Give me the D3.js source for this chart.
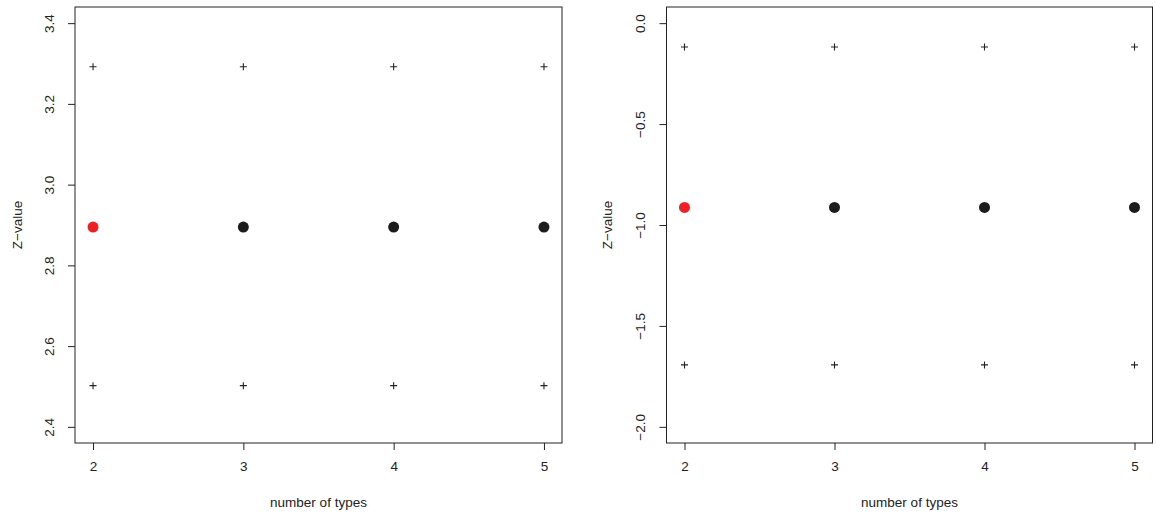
<!DOCTYPE html>
<html>
<head>
<meta charset="utf-8">
<script src="https://cdn.jsdelivr.net/npm/d3@7"></script>
<style>
  html, body { margin: 0; padding: 0; background: #fff; }
  svg { display: block; }
  text { font-family: "Liberation Sans", Arial, Helvetica, sans-serif; fill: #222; }
</style>
</head>
<body>
<svg id="chart" width="1156" height="516"></svg>
<script>
// ---- data ----
const types = [2, 3, 4, 5];
const xTicks = [2, 3, 4, 5];

// left panel
const leftZ = [2.895, 2.895, 2.895, 2.895];
const leftUpper = [3.292, 3.292, 3.292, 3.292];
const leftLower = [2.502, 2.502, 2.502, 2.502];
const leftYTicks = [2.4, 2.6, 2.8, 3.0, 3.2, 3.4];
const leftYLim = [2.4, 3.4];

// right panel
const rightZ = [-0.913, -0.913, -0.913, -0.913];
const rightUpper = [-0.118, -0.118, -0.118, -0.118];
const rightLower = [-1.693, -1.693, -1.693, -1.693];
const rightYTicks = [-2.0, -1.5, -1.0, -0.5, 0.0];
const rightYLim = [-2.0, 0.0];

// highlighted (first) point colour vs others
const pointColors = ["#ee2024", "#1c1c1c", "#1c1c1c", "#1c1c1c"];

const xLabel = "number of types";
const yLabel = "Z\u2212value";

const FS = 13.5;
const svg = d3.select("#chart");

function rFmt(v) {
  const s = v.toFixed(1);
  return s.replace("-", "\u2212");
}

function panel(opts) {
  const { left, right, top, bottom, z, upper, lower, yTicks, yLim, yLabX, tickLabX } = opts;
  const g = svg.append("g");
  const xr = [2, 5];
  const xpad = (xr[1] - xr[0]) * 0.04;
  const ypad = (yLim[1] - yLim[0]) * 0.04;
  const x = d3.scaleLinear().domain([xr[0] - xpad, xr[1] + xpad]).range([left, right]);
  const y = d3.scaleLinear().domain([yLim[0] - ypad, yLim[1] + ypad]).range([bottom, top]);

  // box
  g.append("rect")
    .attr("x", left).attr("y", top)
    .attr("width", right - left).attr("height", bottom - top)
    .attr("fill", "none").attr("stroke", "#222").attr("stroke-width", 1);

  // x axis
  const xa = g.append("g").attr("transform", `translate(0,${bottom})`)
    .call(d3.axisBottom(x).tickValues(xTicks).tickSize(7).tickPadding(11).tickFormat(d3.format("d")));
  xa.select(".domain").remove();
  xa.selectAll(".tick line").attr("stroke", "#222");
  xa.selectAll(".tick text").attr("font-size", FS).style("fill", "#222")
    .attr("font-family", "Liberation Sans, Arial, sans-serif");

  // y axis
  const ya = g.append("g").attr("transform", `translate(${left},0)`)
    .call(d3.axisLeft(y).tickValues(yTicks).tickSize(7).tickFormat(rFmt));
  ya.select(".domain").remove();
  ya.selectAll(".tick line").attr("stroke", "#222");
  ya.selectAll(".tick text")
    .attr("x", null).attr("dy", null)
    .attr("font-size", FS).style("fill", "#222")
    .attr("font-family", "Liberation Sans, Arial, sans-serif")
    .attr("text-anchor", "middle")
    .attr("transform", `translate(${tickLabX - left},0) rotate(-90)`)
    .attr("dominant-baseline", "central");

  // axis titles
  g.append("text")
    .attr("x", (left + right) / 2).attr("y", 506.5)
    .attr("text-anchor", "middle").attr("font-size", FS)
    .text(xLabel);
  g.append("text")
    .attr("transform", `translate(${yLabX},${(top + bottom) / 2}) rotate(-90)`)
    .attr("text-anchor", "middle").attr("font-size", FS)
    .attr("dominant-baseline", "central")
    .text(yLabel);

  // plus markers (upper / lower)
  const plus = "M-3.5,0H3.5M0,-3.5V3.5";
  [upper, lower].forEach(arr => {
    g.selectAll(null).data(types.map((t, i) => ({ t, v: arr[i] })))
      .enter().append("path")
      .attr("d", plus)
      .attr("transform", d => `translate(${x(d.t)},${y(d.v)})`)
      .attr("stroke", "#222").attr("stroke-width", 1.1).attr("fill", "none");
  });

  // main points
  g.selectAll(null).data(types.map((t, i) => ({ t, v: z[i], c: pointColors[i] })))
    .enter().append("circle")
    .attr("cx", d => x(d.t)).attr("cy", d => y(d.v))
    .attr("r", 5.5)
    .attr("fill", d => d.c);
}

panel({ left: 75, right: 562, top: 7, bottom: 443,
        z: leftZ, upper: leftUpper, lower: leftLower,
        yTicks: leftYTicks, yLim: leftYLim, yLabX: 17, tickLabX: 49 });
panel({ left: 666.5, right: 1152.5, top: 7, bottom: 443,
        z: rightZ, upper: rightUpper, lower: rightLower,
        yTicks: rightYTicks, yLim: rightYLim, yLabX: 607, tickLabX: 640 });
</script>
</body>
</html>
